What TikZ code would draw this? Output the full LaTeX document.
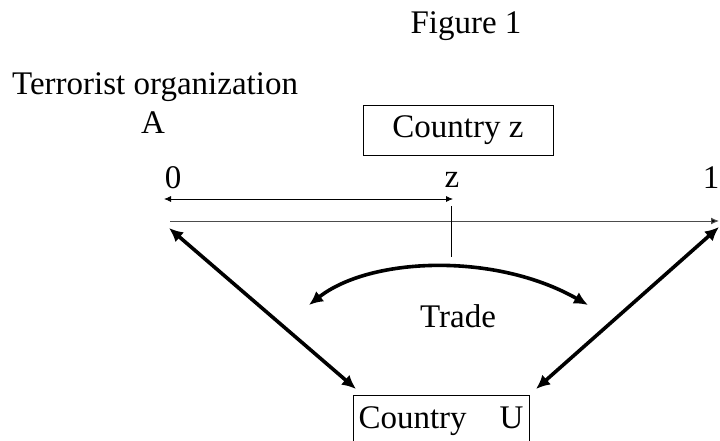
\documentclass[tikz,border=0pt]{standalone}
\usepackage{fontspec}
\setmainfont{Liberation Serif}
\usetikzlibrary{arrows.meta}

\begin{document}
\begin{tikzpicture}[x=1pt, y=-1pt, font=\fontsize{33}{38}\selectfont]
    \useasboundingbox (0,0) rectangle (720,441);

    % titles
    \node[anchor=base] (figtitle) at (466,34) {Figure 1};
    \node[anchor=base west, inner sep=0pt] (terror) at (12,95) {Terrorist organization};
    \node[anchor=base] (orgA) at (153,134) {A};

    % country boxes
    \node[draw, minimum width=190, minimum height=50, inner sep=0pt] (boxz) at (458,130) {Country z};
    \node[draw, minimum width=176, minimum height=52, inner sep=0pt] (boxu) at (441,421) {Country\quad U};

    % axis labels
    \node[anchor=base] (zero) at (173,188) {0};
    \node[anchor=base] (zlabel) at (452,187) {z};
    \node[anchor=base] (one) at (711,188) {1};

    % axis end points
    \coordinate (dL) at (164,199);
    \coordinate (dR) at (453,199);
    \coordinate (axL) at (170,221);
    \coordinate (axR) at (719,221);
    \coordinate (tick) at (451,206);
    \coordinate (tickend) at (451,257);

    % axis and interval
    \path[draw=black, line width=0.8pt] (dL) edge[{Latex[length=7pt,width=6pt]}-{Latex[length=7pt,width=6pt]}] (dR);
    \path[draw=black!70, line width=1pt] (axL) edge[-{Latex[length=8pt,width=7pt]}] (axR);
    \path[draw=black, line width=0.8pt] (tick) edge[-] (tickend);

    % trade between A and U
    \coordinate (tradeL) at (309,305);
    \coordinate (tradeR) at (588,305);
    \draw[line width=3.6pt, {Latex[length=14pt,width=13pt]}-{Latex[length=14pt,width=13pt]}]
        (tradeL) .. controls (370,257) and (495,252) .. (tradeR);
    \node[anchor=base] (trade) at (458,327) {Trade};

    % links to country U
    \coordinate (linkL) at (169,228);
    \coordinate (linkR) at (719,227);
    \coordinate (uL) at (356,389);
    \coordinate (uR) at (536,389);
    \path[draw=black, line width=3.6pt] (linkL) edge[{Latex[length=14pt,width=13pt]}-{Latex[length=14pt,width=13pt]}] (uL);
    \path[draw=black, line width=3.6pt] (linkR) edge[{Latex[length=14pt,width=13pt]}-{Latex[length=14pt,width=13pt]}] (uR);

\end{tikzpicture}
\end{document}
